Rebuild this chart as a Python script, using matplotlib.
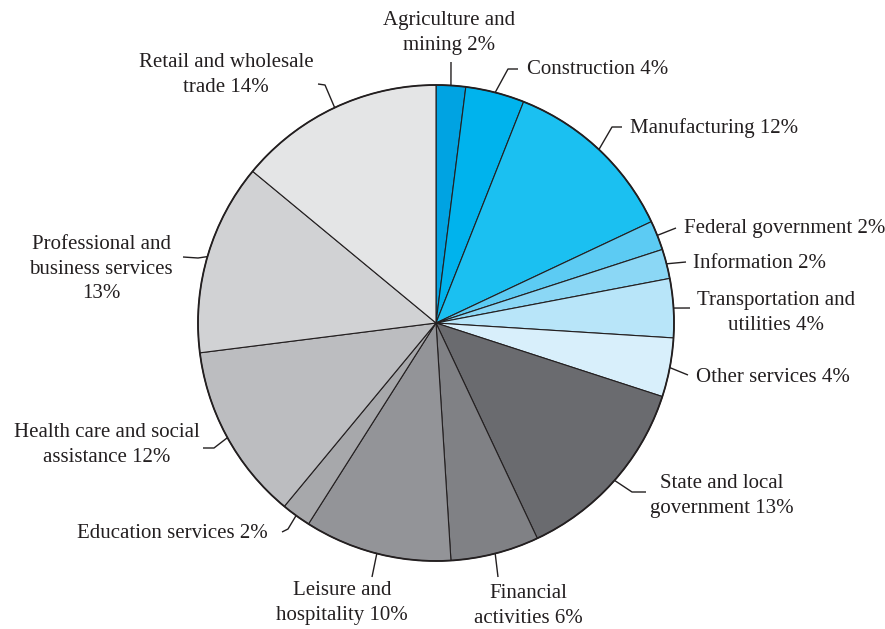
import numpy as np
from matplotlib import pyplot as plt
from matplotlib.patches import Circle

sectors = ['Agriculture and\nmining', 'Construction', 'Manufacturing',
           'Federal government', 'Information', 'Transportation and\nutilities',
           'Other services', 'State and local\ngovernment', 'Financial\nactivities',
           'Leisure and\nhospitality', 'Education services',
           'Health care and social\nassistance', 'Professional and\nbusiness services\n',
           'Retail and wholesale\ntrade']
shares = [2, 4, 12, 2, 2, 4, 4, 13, 6, 10, 2, 12, 13, 14]
colors = ['#00a3e2', '#00b3ed', '#1bc0f1', '#5ccbf3', '#8bd7f5', '#b8e5f9',
          '#d8effb', '#6a6b6f', '#808185', '#939498', '#a7a8ab', '#bcbdc0',
          '#d1d2d4', '#e4e5e6']

# label placement in pixel coordinates (y down): text centre, alignment, leader path
text_pos = [(449, 33), (527, 70), (630, 128), (684, 228), (693, 264), (776, 313),
            (696, 377), (722, 496), (528, 606), (342, 603), (268, 534),
            (107, 445), (101, 269), (226, 75)]
text_ha = ['center', 'left', 'left', 'left', 'left', 'center', 'left', 'center',
           'center', 'center', 'right', 'center', 'center', 'center']
leader_pts = [[(451, 62)], [(508, 69), (518, 69)], [(612, 127), (622, 127)],
              [(676, 228)], [(686, 262)], [(690, 308)], [(688, 375)],
              [(632, 492), (646, 492)], [(498, 577)], [(372, 577)],
              [(288, 529), (282, 532)], [(214, 448), (203, 448)],
              [(198, 258), (183, 257)], [(325, 85), (318, 84)]]

cx, cy, r = 436, 323, 238
ink = '#231f20'

fig = plt.figure(figsize=(8.85, 6.29), dpi=100)
ax = fig.add_axes([0, 0, 1, 1])

wedges, _ = ax.pie(shares, colors=colors, center=(cx, cy), radius=r,
                   startangle=-90, counterclock=True, frame=True,
                   wedgeprops=dict(edgecolor=ink, linewidth=0.8))
ax.add_patch(Circle((cx, cy), r, fill=False, edgecolor=ink, linewidth=1.3))
ax.set_xlim(0, 885)
ax.set_ylim(629, 0)
ax.set_aspect('equal')
ax.axis('off')

for w, name, pct, (tx, ty), ha, pts in zip(wedges, sectors, shares, text_pos,
                                           text_ha, leader_pts):
    mid = np.deg2rad((w.theta1 + w.theta2) / 2)
    x0, y0 = cx + r * np.cos(mid), cy + r * np.sin(mid)
    xs = [x0] + [p[0] for p in pts]
    ys = [y0] + [p[1] for p in pts]
    ax.plot(xs, ys, color=ink, lw=1.0, solid_capstyle='butt')
    sep = '' if name.endswith('\n') else ' '
    label = f'{name}{sep}{pct}%'
    ax.text(tx, ty, label, ha=ha, va='center', fontsize=15, color=ink,
            family='Liberation Serif', multialignment='center', linespacing=1.4)

fig.savefig('out.png', dpi=100, facecolor='white')
